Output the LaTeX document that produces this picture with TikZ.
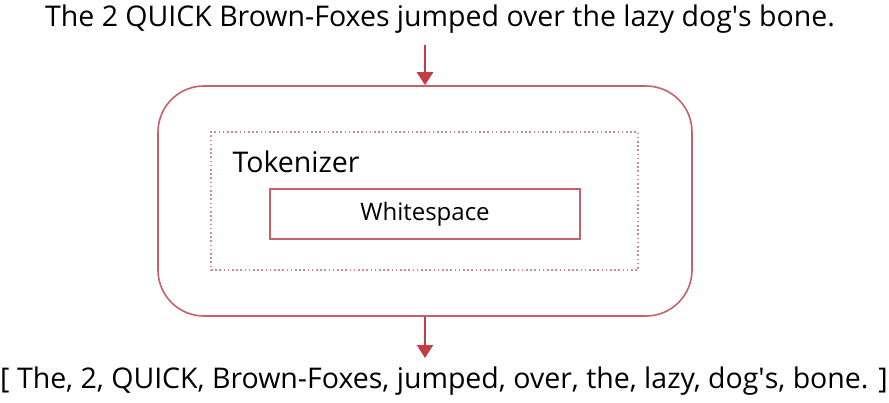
\documentclass[tikz,border=0pt]{standalone}
\usepackage{fontspec}
\setmainfont{Open Sans}
\usepackage{xcolor}
\definecolor{colFrame}{HTML}{C8606A}
\definecolor{colDots}{HTML}{D08A94}
\definecolor{colArr}{HTML}{C43C44}
\usetikzlibrary{arrows.meta, positioning}

\tikzset{
  frame/.style={draw=colFrame, line width=1.6pt, rounded corners=46pt},
  dotbox/.style={draw=colDots, line width=1.4pt, dash pattern=on 1.6pt off 2.6pt},
  wsbox/.style={draw=colFrame, line width=1.4pt},
  arr/.style={draw=colArr, line width=2.6pt, -{Triangle[length=13pt,width=16pt]}},
  big/.style={font=\fontsize{28.5}{32}\selectfont},
}

\begin{document}
\begin{tikzpicture}[x=1pt, y=-1pt]
				\useasboundingbox (0,0) rectangle (889,402);
				% text in and out
				\node[big] (input) at (440,19) {The 2 QUICK Brown-Foxes jumped over the lazy dog\textquotesingle s bone.};
				\node[big] (output) at (444,381) {[ The, 2, QUICK, Brown-Foxes, jumped, over, the, lazy, dog\textquotesingle s, bone. ]};
				% boxes
				\node[frame, minimum width=534pt, minimum height=230pt] (analyzer) at (425,201) {};
				\node[dotbox, minimum width=427pt, minimum height=138pt] (tok) at (424.5,201) {};
				\node[big, anchor=west] (toklabel) at (229,162) {Tokenizer};
				\node[wsbox, minimum width=310pt, minimum height=50pt, font=\fontsize{24}{28}\selectfont] (ws) at (425,214) {Whitespace};
				% arrows
				\coordinate (inTop) at (425,45);
				\coordinate (outEnd) at (425,358);
				\draw[arr] (inTop) -- (analyzer.north);
				\draw[arr] (analyzer.south) -- (outEnd);
			\end{tikzpicture}
\end{document}
